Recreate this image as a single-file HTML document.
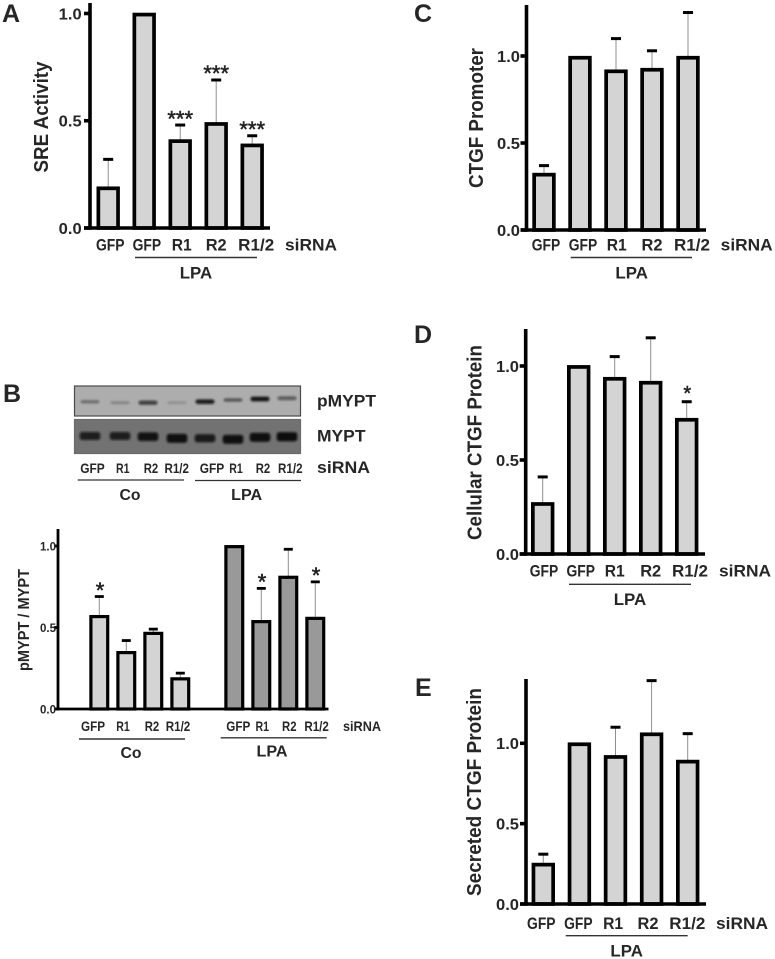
<!DOCTYPE html>
<html lang="en">
<head>
<meta charset="utf-8">
<title>SRE and CTGF bar charts</title>
<style>
html,body{margin:0;padding:0;background:#fff;}
svg{display:block;}
text{font-family:"Liberation Sans",sans-serif;font-weight:bold;fill:#262626;}
</style>
</head>
<body>
<svg id="figure" width="775" height="959" viewBox="0 0 775 959" xmlns="http://www.w3.org/2000/svg">
<defs>
<filter id="band-blur" x="-30%" y="-150%" width="160%" height="400%"><feGaussianBlur stdDeviation="1"/></filter>
</defs>
<text x="2" y="22" font-size="25">A</text>
<text x="3" y="402" font-size="25">B</text>
<text x="414" y="22" font-size="25">C</text>
<text x="414" y="343" font-size="25">D</text>
<text x="415" y="696" font-size="25">E</text>
<g id="panel-a"></g>
<g id="panel-b-blot"></g>
<g id="panel-b"></g>
<g id="panel-c"></g>
<g id="panel-d"></g>
<g id="panel-e"></g>
</svg>
<script>
/* ---------- data ---------- */
const tickValues = [0, 0.5, 1];
const tickLabels = ["0.0", "0.5", "1.0"];
const categories = ["GFP", "GFP", "R1", "R2", "R1/2"];
const groupCategories = ["GFP", "R1", "R2", "R1/2", "GFP", "R1", "R2", "R1/2"];

const aValues = [0.185, 0.995, 0.405, 0.485, 0.385];
const aErrorTops = [0.32, null, 0.48, 0.69, 0.43];
const aStars = ["", "", "***", "***", "***"];

const bValues = [0.567, 0.346, 0.464, 0.185, 0.996, 0.536, 0.808, 0.556];
const bErrorTops = [0.69, 0.42, 0.49, 0.22, null, 0.74, 0.98, 0.78];
const bStars = ["*", "", "", "", "", "*", "", "*"];

const cValues = [0.318, 0.99, 0.912, 0.921, 0.99];
const cErrorTops = [0.37, null, 1.1, 1.03, 1.25];
const cStars = ["", "", "", "", ""];

const dValues = [0.266, 0.995, 0.932, 0.911, 0.714];
const dErrorTops = [0.41, null, 1.05, 1.15, 0.81];
const dStars = ["", "", "", "", "*"];

const eValues = [0.245, 0.994, 0.915, 1.056, 0.886];
const eErrorTops = [0.31, null, 1.1, 1.39, 1.06];
const eStars = ["", "", "", "", ""];

const pmyptBands = [0.38, 0.24, 0.72, 0.18, 0.9, 0.5, 0.95, 0.55];
const myptBands = [0.85, 0.85, 0.95, 0.98, 0.88, 0.98, 0.98, 1];

/* ---------- helpers ---------- */
const NS = "http://www.w3.org/2000/svg";
function el(parent, tag, attrs) {
  const node = document.createElementNS(NS, tag);
  for (const k in attrs) node.setAttribute(k, attrs[k]);
  parent.appendChild(node);
  return node;
}
function label(parent, str, x, y, size, width, anchor, name, rotate) {
  const t = el(parent, "text", {x: x, y: y, "font-size": size, "text-anchor": anchor || "middle"});
  if (width) {
    t.setAttribute("textLength", width);
    t.setAttribute("lengthAdjust", "spacingAndGlyphs");
  }
  if (rotate) t.setAttribute("transform", "rotate(-90 " + x + " " + y + ")");
  t.textContent = str;
  
  
  return t;
}
function solidLine(parent, x1, y1, x2, y2, w, color, name) {
  const l = el(parent, "line", {x1: x1, y1: y1, x2: x2, y2: y2, stroke: color, "stroke-width": w});
  
  
  return l;
}

/* ---------- chart ---------- */
function drawChart(id, values, errorTops, stars, names, L) {
  const g = document.getElementById(id);
  const yScale = v => L.yBase - v * (L.yBase - L.yOne);
  const xScale = i => L.x0 + L.step * (i + (i >= L.gapAfter ? L.gapSize : 0));

  // bars and error bars
  values.forEach((v, i) => {
    const cx = xScale(i), top = yScale(v);
    if (errorTops[i] !== null) {
      const ey = yScale(errorTops[i]);
      solidLine(g, cx, top, cx, ey, 1, "#8f8f8f", "error-stem-" + i);
      solidLine(g, cx - L.capHalf, ey, cx + L.capHalf, ey, L.capW, "#000", "error-cap-" + i);
    }
    const r = el(g, "rect", {
      x: cx - L.barW / 2, y: top, width: L.barW, height: L.yBase - top,
      fill: i >= L.darkFrom ? "#999999" : "#d4d4d4", stroke: "#000", "stroke-width": L.barStroke
    });
    
    
    if (stars[i]) {
      const sy = (errorTops[i] !== null ? yScale(errorTops[i]) : top) - L.starGap;
      const s = label(g, stars[i], cx + L.starNudge, sy + L.starSize * 0.42, L.starSize, 0, "middle", "significance-" + i);
      s.setAttribute("style", "font-weight:normal;fill:#222;stroke:#222;stroke-width:0.5");
    }
  });

  // axes
  solidLine(g, L.axisX, L.top, L.axisX, L.yBase + L.axisW / 2, L.axisW, "#000", "y-axis-line");
  solidLine(g, L.axisX - L.tick, L.yBase, L.right, L.yBase, L.axisW, "#000", "x-axis-line");
  tickValues.forEach((v, i) => {
    const y = yScale(v);
    solidLine(g, L.axisX - L.tick, y, L.axisX, y, L.axisW, "#000", "y-tick-" + i);
    label(g, tickLabels[i], L.tickEnd, y + L.tickSize * 0.36, L.tickSize, L.tickWidth, "end", "y-tick-label-" + i);
  });
  label(g, L.title, L.titleX, L.titleY, L.titleSize, L.titleLen, "middle", "y-axis-title", true);

  // categories
  names.forEach((c, i) => {
    label(g, c, xScale(i) + L.labelNudge[i], L.labelY, L.labelSize, L.labelWidths[c], "middle", "x-label-" + i);
  });
  label(g, "siRNA", L.sirnaX, L.labelY, L.sirnaSize, L.sirnaW, "middle", "sirna-label");

  // group brackets
  L.groups.forEach((b, i) => {
    solidLine(g, b.from, b.y, b.to, b.y, 1.4, "#333", "group-line-" + b.text.toLowerCase());
    label(g, b.text, b.cx, b.textY, b.size, b.w, "middle", "group-label-" + b.text.toLowerCase());
  });
}

const wideLabels = {GFP: 28.5, R1: 20, R2: 21, "R1/2": 36};
function fiveBarLayout(o) {
  return Object.assign({
    step: 36, barW: 19.7, barStroke: 3.7, capHalf: 5, capW: 3, gapAfter: 99, gapSize: 0, darkFrom: 99,
    axisW: 3.6, tick: 6, tickSize: 16, tickWidth: 23, titleSize: 20, labelSize: 16.5,
    labelWidths: wideLabels, sirnaSize: 16.5, sirnaW: 52, starGap: 8, starSize: 22, starNudge: 0
  }, o);
}

drawChart("panel-a", aValues, aErrorTops, aStars, categories, fiveBarLayout({
  x0: 108.2, yBase: 228, yOne: 13.5, axisX: 90, top: 3, right: 270, tickEnd: 81.7,
  title: "SRE Activity", titleX: 48, titleY: 117, titleLen: 111,
  labelY: 250.7, labelNudge: [2, 2.7, 1.5, 0, 4], sirnaX: 311,
  groups: [{text: "LPA", from: 135, to: 257, y: 257.5, cx: 196, textY: 278.7, size: 16.5, w: 32.5}]
}));

drawChart("panel-c", cValues, cErrorTops, cStars, categories, fiveBarLayout({
  x0: 544, yBase: 230, yOne: 56, axisX: 526.5, top: 5, right: 706, tickEnd: 520,
  title: "CTGF Promoter", titleX: 483, titleY: 118, titleLen: 140,
  labelY: 250.7, labelNudge: [2, 3, 0.7, 0, 4], sirnaX: 746.7,
  groups: [{text: "LPA", from: 570.7, to: 692, y: 257.5, cx: 631.7, textY: 278.7, size: 16.5, w: 32.5}]
}));

drawChart("panel-d", dValues, dErrorTops, dStars, categories, fiveBarLayout({
  x0: 542.7, step: 36, yBase: 554, yOne: 366, axisX: 525.7, top: 329, right: 705, tickEnd: 519,
  title: "Cellular CTGF Protein", titleX: 481.7, titleY: 442.5, titleLen: 195,
  labelY: 576.7, labelNudge: [1.3, 2, 0, 0, 3.3], sirnaX: 745, starSize: 20, starGap: 10, starNudge: 0.6,
  groups: [{text: "LPA", from: 569, to: 691, y: 584.3, cx: 630, textY: 605, size: 16.5, w: 32.5}]
}));

drawChart("panel-e", eValues, eErrorTops, eStars, categories, fiveBarLayout({
  x0: 543.3, step: 36.1, yBase: 904, yOne: 743.3, axisX: 526, top: 679, right: 706, tickEnd: 519,
  title: "Secreted CTGF Protein", titleX: 481, titleY: 792, titleLen: 208,
  labelY: 929, labelNudge: [-2, -1, -2.4, -3.6, -0.4], sirnaX: 742,
  groups: [{text: "LPA", from: 565.7, to: 687.7, y: 935.7, cx: 626.7, textY: 956.7, size: 16.5, w: 32.5}]
}));

drawChart("panel-b", bValues, bErrorTops, bStars, groupCategories, {
  x0: 99.3, step: 27, gapAfter: 4, gapSize: 1, darkFrom: 4, barW: 16.8, barStroke: 3.2,
  yBase: 709, yOne: 546, axisX: 58, top: 529, right: 328.5, axisW: 2.8, tick: 4,
  capHalf: 4.5, capW: 2.8, tickEnd: 56, tickSize: 12, tickWidth: 16,
  title: "pMYPT / MYPT", titleX: 29, titleY: 620, titleSize: 15.5, titleLen: 102,
  labelY: 731, labelSize: 14, labelNudge: [-6.3, -3.3, -1.3, -2.3, 4, 1, 1, 1.3],
  labelWidths: {GFP: 24, R1: 13.5, R2: 14.5, "R1/2": 24.5},
  sirnaX: 362, sirnaSize: 14, sirnaW: 38, starGap: 8, starSize: 22, starNudge: 0.7,
  groups: [
    {text: "Co", from: 79, to: 185, y: 739, cx: 131, textY: 758, size: 16, w: 21},
    {text: "LPA", from: 220.7, to: 326.7, y: 737.8, cx: 272, textY: 756.7, size: 16, w: 31}
  ]
});

/* ---------- western blot ---------- */
const laneOffsets = [0, 30, 58, 87, 115, 143, 170, 197];
const pmyptDrift = [0, 1, 1, 1, 0, -1.7, -2.7, -3.4];
const myptDrift = [0, 0, 0.7, 2.3, 2.3, 3.3, 1.3, 0.7];
function drawBlot(parent, values, name, L) {
  const g = el(parent, "g", {});
  
  
  const bg = el(g, "rect", {x: L.x, y: L.y, width: L.w, height: L.h, fill: L.bg, stroke: L.border, "stroke-width": 1.2});
  
  
  const bands = el(g, "g", {filter: "url(#band-blur)"});
  values.forEach((v, i) => {
    const h = L.hBase + L.hGain * v;
    const b = el(bands, "rect", {
      x: L.x0 + laneOffsets[i] - L.bandW / 2, y: L.bandY + L.drift[i] - h / 2,
      width: L.bandW, height: h, rx: 2.5, fill: "#0c0c0c", opacity: Math.min(1, v)
    });
    
    
  });
}
const blotRoot = document.getElementById("panel-b-blot");
drawBlot(blotRoot, pmyptBands, "pmypt-blot", {x: 74.5, y: 386, w: 226, h: 30, bg: "#adadad", border: "#4a4a4a", bandY: 401.7, x0: 90, bandW: 19, hBase: 2.2, hGain: 2.8, drift: pmyptDrift});
drawBlot(blotRoot, myptBands, "mypt-blot", {x: 74.5, y: 419.5, w: 226, h: 34, bg: "#727272", border: "#6a6a6a", bandY: 436, x0: 90, bandW: 20.5, hBase: 2, hGain: 7, drift: myptDrift});
label(blotRoot, "pMYPT", 317, 406.7, 17, 59, "start", "pmypt-label");
label(blotRoot, "MYPT", 317, 441.7, 17, 48.5, "start", "mypt-label");
label(blotRoot, "siRNA", 317, 473, 17, 53, "start", "blot-sirna-label");
const laneNudge = [2.5, 2.7, 3, -0.3, 7, 3, 3, 3.3];
const laneWidths = {GFP: 24.5, R1: 13.5, R2: 14.5, "R1/2": 24.5};
groupCategories.forEach((c, i) => {
  label(blotRoot, c, 90 + laneOffsets[i] + laneNudge[i], 473, 14, laneWidths[c], "middle", "blot-lane-label-" + i);
});
solidLine(blotRoot, 77.7, 480, 184, 480, 1.2, "#333", "blot-group-line-co");
solidLine(blotRoot, 195, 480.5, 301, 480.5, 1.2, "#333", "blot-group-line-lpa");
label(blotRoot, "Co", 130, 500, 16, 21, "middle", "blot-group-label-co");
label(blotRoot, "LPA", 246.7, 500, 16, 31, "middle", "blot-group-label-lpa");
</script>
</body>
</html>
